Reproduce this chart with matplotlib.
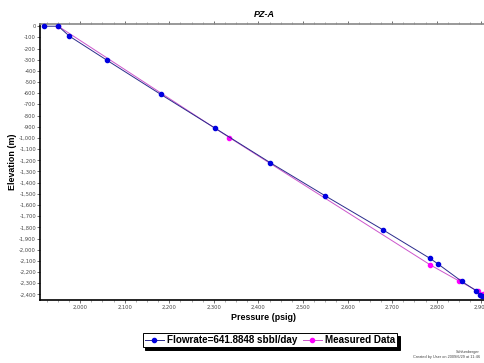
import matplotlib
matplotlib.use("Agg")
import matplotlib.pyplot as plt
from matplotlib.ticker import FuncFormatter, MultipleLocator

# Data
flow_pressure = [1919, 1951, 1976, 2060, 2181, 2303, 2426, 2550, 2679, 2785, 2803, 2856, 2888, 2897, 2902]
flow_elev = [0, 0, -89, -304, -610, -913, -1220, -1518, -1821, -2078, -2128, -2283, -2366, -2402, -2410]
meas_pressure = [1951, 2335, 2786, 2850, 2893, 2903, 2912]
meas_elev = [0, -997, -2137, -2280, -2372, -2393, -2405]
flow_label = "Flowrate=641.8848 sbbl/day"
meas_label = "Measured Data"
title = "PZ-A"
xlabel = "Pressure (psig)"
ylabel = "Elevation (m)"

W, H = 485, 363
fig = plt.figure(figsize=(W / 100, H / 100), dpi=100)
fig.patch.set_facecolor("white")
ax = fig.add_axes([40 / W, 1 - 300 / H, 448 / W, 276 / H])

ax.plot(flow_pressure, flow_elev, color="#2b2b8c", lw=0.7, marker="o", ms=3.0,
        mfc="#0000e0", mec="#0000e0", label=flow_label, zorder=3, clip_on=False)
ax.plot(meas_pressure, meas_elev, color="#cc55cc", lw=0.7, marker="o", ms=3.0,
        mfc="#ff00ff", mec="#ff00ff", label=meas_label, zorder=2, clip_on=False)

ax.set_xlim(1910, 2915)
ax.set_ylim(-2450, 20)
ax.xaxis.set_major_locator(MultipleLocator(100))
ax.xaxis.set_minor_locator(MultipleLocator(25))
ax.yaxis.set_major_locator(MultipleLocator(100))
fmt = FuncFormatter(lambda v, p: f"{int(round(v)):,}")
ax.xaxis.set_major_formatter(fmt)
ax.yaxis.set_major_formatter(fmt)

ax.tick_params(axis="both", which="major", labelsize=3.7, labelcolor="#444444",
               length=2.0, width=0.6, color="#555555", pad=0.8)
ax.tick_params(axis="x", which="minor", length=1.5, width=0.5, color="#888888")
ax.tick_params(axis="x", which="both", top=True)
ax.tick_params(axis="x", which="major", pad=1.5)

for s in ["left", "bottom"]:
    ax.spines[s].set_color("black")
    ax.spines[s].set_linewidth(1.2)
ax.spines["top"].set_color("#888888")
ax.spines["top"].set_linewidth(1.2)
ax.spines["right"].set_visible(False)

ax.set_title(title, fontsize=6.5, fontweight="bold", fontstyle="italic",
             family="Liberation Sans", pad=5)
ax.set_xlabel(xlabel, fontsize=6.4, fontweight="bold", family="Liberation Sans")
ax.set_ylabel(ylabel, fontsize=6.4, fontweight="bold", family="Liberation Sans")
ax.xaxis.set_label_coords(0.5, -17 / 276, transform=ax.transAxes)
ax.xaxis.label.set_va("center")
ax.yaxis.set_label_coords(-27 / 448, 0.5, transform=ax.transAxes)
ax.yaxis.label.set_va("center")

leg = fig.legend(loc="center", bbox_to_anchor=(270 / W, 1 - 340 / H), ncol=2,
                 frameon=True, fancybox=False, shadow={"color": "black", "alpha": 1, "ox": 2, "oy": -2},
                 prop={"family": "Liberation Sans", "weight": "bold", "size": 7.1},
                 handlelength=2.0, handletextpad=0.3, columnspacing=0.5,
                 borderpad=0.2, borderaxespad=0)
leg.get_frame().set_edgecolor("black")
leg.get_frame().set_linewidth(0.7)

fig.text(480 / W, 1 - 352 / H, "Schlumberger", fontsize=2.8, ha="right", va="center",
         color="#444444", family="Liberation Sans")
fig.text(480 / W, 1 - 357 / H, "Created by User on 2009/6/29 at 11:46", fontsize=2.8,
         ha="right", va="center", color="#444444", family="Liberation Sans")

fig.savefig("out.png", dpi=100)
